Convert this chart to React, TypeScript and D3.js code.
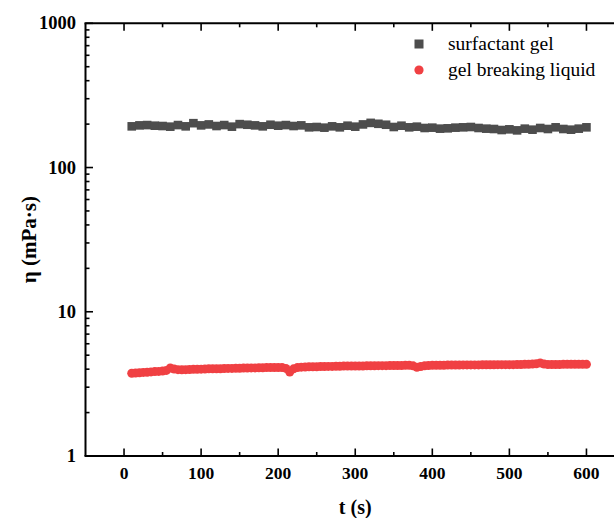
import React from "react";
import * as d3 from "d3";

const gelTimes: number[] = d3.range(10, 601, 10);
const gelValues: number[] = [
  193, 196, 197, 195, 194, 192, 197, 193, 203, 196,
  199, 194, 197, 192, 200, 198, 196, 193, 198, 195,
  197, 194, 196, 190, 191, 189, 193, 190, 195, 192,
  199, 204, 201, 198, 191, 195, 190, 192, 188, 189,
  186, 187, 189, 190, 191, 188, 186, 185, 182, 184,
  181, 186, 183, 188, 185, 190, 185, 183, 186, 190,
];

const liquidTimes: number[] = d3.range(10, 601, 5);
const liquidValues: number[] = [
  3.75, 3.76, 3.78, 3.80, 3.81, 3.83, 3.85, 3.86, 3.88, 3.92,
  4.08, 4.01, 3.97, 3.96, 3.97, 3.98, 3.99, 3.99, 4.00, 4.01,
  4.02, 4.02, 4.03, 4.03, 4.04, 4.05, 4.05, 4.06, 4.06, 4.07,
  4.07, 4.08, 4.08, 4.09, 4.09, 4.10, 4.10, 4.11, 4.10, 4.11,
  4.05, 3.82, 4.02, 4.10, 4.13, 4.14, 4.15, 4.15, 4.16, 4.17,
  4.17, 4.18, 4.18, 4.19, 4.19, 4.20, 4.20, 4.20, 4.21, 4.21,
  4.21, 4.22, 4.22, 4.22, 4.23, 4.23, 4.23, 4.24, 4.24, 4.24,
  4.24, 4.25, 4.25, 4.22, 4.12, 4.17, 4.22, 4.24, 4.25, 4.26,
  4.26, 4.26, 4.27, 4.27, 4.27, 4.27, 4.28, 4.28, 4.28, 4.28,
  4.28, 4.29, 4.29, 4.29, 4.29, 4.30, 4.30, 4.30, 4.30, 4.30,
  4.31, 4.31, 4.32, 4.33, 4.34, 4.36, 4.42, 4.34, 4.31, 4.31,
  4.31, 4.31, 4.32, 4.32, 4.32, 4.32, 4.32, 4.32, 4.32,
];

const xMajorTicks: number[] = [0, 100, 200, 300, 400, 500, 600];
const xMinorTicks: number[] = [50, 150, 250, 350, 450, 550];
const yMajorTicks: number[] = [1, 10, 100, 1000];
const yTickLabels: string[] = ["1", "10", "100", "1000"];
const seriesNames: string[] = ["surfactant gel", "gel breaking liquid"];
const xTitle = "t (s)";
const yTitle = "η (mPa·s)";

const W = 614;
const H = 518;
const L = 85.5;
const T = 23.3;
const B = 456;

export default function App() {
  const x = d3.scaleLinear().domain([-50, 650]).range([L, L + 700 * 0.7707]);
  const y = d3.scaleLog().domain([1, 1000]).range([B, T]);
  const yMinor: number[] = [];
  [1, 10, 100].forEach((d) => {
    for (let k = 2; k <= 9; k++) yMinor.push(d * k);
  });
  const font = "'Liberation Serif', 'Times New Roman', serif";
  const right = x(650);
  return (
    <svg width={W} height={H} style={{ position: "absolute", left: 0, top: 0 }} fontFamily={font}>
      <rect width={W} height={H} fill="#fff" />
      {/* data */}
      {gelTimes.map((t, i) => (
        <rect key={"g" + i} x={x(t) - 4.3} y={y(gelValues[i]) - 4.3} width={8.6} height={8.6} fill="#4d4d4d" />
      ))}
      {liquidTimes.map((t, i) => (
        <circle key={"l" + i} cx={x(t)} cy={y(liquidValues[i])} r={4.5} fill="#f04043" />
      ))}
      {/* axes frame */}
      <line x1={L} x2={L} y1={T} y2={B} stroke="#000" strokeWidth={2} />
      <line x1={L - 1} x2={right} y1={B} y2={B} stroke="#000" strokeWidth={2} />
      <line x1={L - 1} x2={right} y1={T} y2={T} stroke="#000" strokeWidth={2} />
      {/* x ticks */}
      {xMajorTicks.map((t) => (
        <g key={"xt" + t}>
          <line x1={x(t)} x2={x(t)} y1={B} y2={B - 7.5} stroke="#000" strokeWidth={1.6} />
          <line x1={x(t)} x2={x(t)} y1={T} y2={T + 7.5} stroke="#000" strokeWidth={1.6} />
          <text x={x(t)} y={479} textAnchor="middle" fontSize={17.5} fontWeight="bold">{t}</text>
        </g>
      ))}
      {xMinorTicks.map((t) => (
        <g key={"xm" + t}>
          <line x1={x(t)} x2={x(t)} y1={B} y2={B - 4} stroke="#000" strokeWidth={1.6} />
          <line x1={x(t)} x2={x(t)} y1={T} y2={T + 4} stroke="#000" strokeWidth={1.6} />
        </g>
      ))}
      {/* y ticks */}
      {yMajorTicks.map((v, i) => (
        <g key={"yt" + v}>
          <line x1={L} x2={L + 7.5} y1={y(v)} y2={y(v)} stroke="#000" strokeWidth={1.6} />
          <text x={76} y={y(v) + 6} textAnchor="end" fontSize={18.5} fontWeight="bold">{yTickLabels[i]}</text>
        </g>
      ))}
      {yMinor.map((v) => (
        <line key={"ym" + v} x1={L} x2={L + 4} y1={y(v)} y2={y(v)} stroke="#000" strokeWidth={1.6} />
      ))}
      {/* titles */}
      <text x={(x(0) + x(600)) / 2} y={514} textAnchor="middle" fontSize={20} fontWeight="bold">{xTitle}</text>
      <text transform={`translate(36, ${(T + B) / 2}) rotate(-90)`} textAnchor="middle" fontSize={21} fontWeight="bold">{yTitle}</text>
      {/* legend */}
      <rect x={414.5} y={39.5} width={9} height={9} fill="#4d4d4d" />
      <text x={448} y={50} fontSize={19.5}>{seriesNames[0]}</text>
      <circle cx={419} cy={70} r={4.6} fill="#f04043" />
      <text x={448} y={76} fontSize={19.5}>{seriesNames[1]}</text>
    </svg>
  );
}
